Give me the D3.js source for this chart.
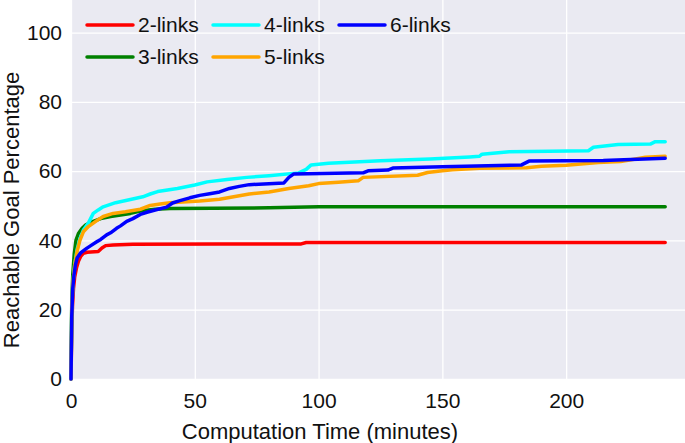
<!DOCTYPE html>
<html><head><meta charset="utf-8">
<script src="https://cdn.jsdelivr.net/npm/d3@7/dist/d3.min.js"></script>
<style>
html,body{margin:0;padding:0;background:#fff;}
svg{display:block;font-family:"Liberation Sans",Arial,sans-serif;}
</style></head>
<body><svg id="chart" width="685" height="443"></svg>
<script>
const seriesNames = ["2-links","3-links","4-links","5-links","6-links"];
const seriesColors = ["#ff0000","#008000","#00ffff","#ffa500","#0000ff"];
const xTicks = [0,50,100,150,200];
const yTicks = [0,20,40,60,80,100];

const links2 = [[0,0],[0.3,14],[0.6,21],[1,26],[1.5,29.5],[2.2,32],[3,34],[4,35.5],[5,36.3],[6.5,36.6],[11,36.8],[12.5,37.8],[14,38.5],[17,38.7],[25,38.9],[60,39.0],[93,39.0],[95,39.4],[240,39.4]];
const links3 = [[0,0],[0.3,22],[0.7,30],[1.3,36],[2,40],[3,42],[4.5,43.5],[6,44.5],[9,45.5],[12,46.3],[16,46.9],[20,47.3],[24,47.8],[28,48.5],[34,49],[40,49.2],[80,49.4],[100,49.7],[240,49.7]];
const links4 = [[0,0],[0.3,20],[0.8,28],[1.5,33],[2.5,37.5],[3.6,40.5],[5,43],[7,45],[9,47.8],[11,48.8],[13,49.7],[18,50.9],[24,51.8],[29,52.6],[32,53.4],[35,54.1],[43,55],[50,56],[55,56.9],[63,57.6],[71,58.2],[80,58.7],[92,59.5],[95,60.5],[97,61.8],[104,62.3],[125,63],[145,63.5],[161,64.1],[165,64.3],[166,64.9],[177,65.6],[209,65.9],[211,66.9],[221,67.7],[234,67.8],[236,68.5],[240,68.5]];
const links5 = [[0,0],[0.3,20],[0.8,28],[1.5,33],[2.5,37],[3.6,40],[5,42.5],[7,44],[9,45],[11,46],[13,46.9],[17,47.8],[22,48.3],[28,49],[32,50.1],[36,50.5],[40,50.9],[52,51.4],[60,51.9],[64,52.4],[72,53.4],[80,54],[88,55],[96,55.8],[100,56.4],[108,56.8],[116,57.2],[118,58.2],[140,58.8],[144,59.6],[150,60.1],[154,60.4],[165,60.8],[184,61],[190,61.4],[200,61.7],[213,62.5],[222,62.8],[228,63.5],[232,64],[240,64.3]];
const links6 = [[0,0],[0.3,18],[0.7,26],[1.2,30],[1.8,33],[2.5,35],[4,36.5],[6.3,37.7],[8,38.5],[10.4,39.6],[12,40.3],[14.4,41.6],[16,42.2],[18.4,43.5],[20,44.2],[22.5,45.5],[25,46.3],[28,47.5],[31,48.2],[34,48.8],[38.6,49.6],[41,50.8],[44,51.5],[48,52.3],[52,53],[56,53.5],[60,54],[64,55],[68,55.6],[72,56.1],[86,56.6],[88,58.2],[90,59.2],[118,59.5],[120,60.1],[128,60.3],[130,60.9],[150,61.3],[182,61.8],[185,62.9],[215,63.1],[240,63.7]];
const seriesData = [links2, links3, links4, links5, links6];

const svg = d3.select("#chart");
const mLeft = 71, mRight = 685, mTop = 0, mBottom = 379;
const x = d3.scaleLinear().domain([0, 248]).range([mLeft, mRight]);
const y = d3.scaleLinear().domain([0, 109.4]).range([mBottom, mTop]);

svg.append("rect").attr("x", mLeft).attr("y", mTop).attr("width", mRight-mLeft).attr("height", mBottom-mTop).attr("fill", "#eaeaf2");

const gx = svg.append("g").attr("transform", `translate(0,${mBottom})`)
  .call(d3.axisBottom(x).tickValues(xTicks).tickSize(-(mBottom-mTop)).tickPadding(14).tickFormat(d3.format("d")));
const gy = svg.append("g").attr("transform", `translate(${mLeft},0)`)
  .call(d3.axisLeft(y).tickValues(yTicks).tickSize(-(mRight-mLeft)).tickPadding(9).tickFormat(d3.format("d")));
[gx, gy].forEach(g => {
  g.select(".domain").remove();
  g.selectAll(".tick line").attr("stroke", "#ffffff").attr("stroke-width", 1.3);
  g.selectAll(".tick text").attr("fill", "#111").style("font-size", "21px").style("font-family", '"Liberation Sans",Arial,sans-serif');
});

const line = d3.line().x(d => x(d[0])).y(d => y(d[1])).curve(d3.curveLinear);
const plot = svg.append("g");
seriesData.forEach((data, i) => {
  plot.append("path").datum(data).attr("d", line)
    .attr("fill", "none").attr("stroke", seriesColors[i]).attr("stroke-width", 3.5)
    .attr("stroke-linejoin", "round").attr("stroke-linecap", "round");
});

// legend
const legCols = [87, 213, 339];
const legRows = [25, 57];
const leg = svg.append("g");
seriesNames.forEach((name, i) => {
  const cx = legCols[Math.floor(i / 2)], cy = legRows[i % 2];
  leg.append("line").attr("x1", cx).attr("x2", cx + 46).attr("y1", cy).attr("y2", cy)
    .attr("stroke", seriesColors[i]).attr("stroke-width", 3.5).attr("stroke-linecap", "round");
  leg.append("text").attr("x", cx + 51).attr("y", cy).attr("dy", "0.35em")
    .attr("fill", "#111").style("font-size", "21px").text(name);
});

svg.append("text").attr("x", 320).attr("y", 439).attr("text-anchor", "middle")
  .attr("fill", "#111").style("font-size", "22px").text("Computation Time (minutes)");
svg.append("text").attr("transform", "translate(19,210) rotate(-90)").attr("text-anchor", "middle")
  .attr("fill", "#111").style("font-size", "22px").text("Reachable Goal Percentage");
</script></body></html>
